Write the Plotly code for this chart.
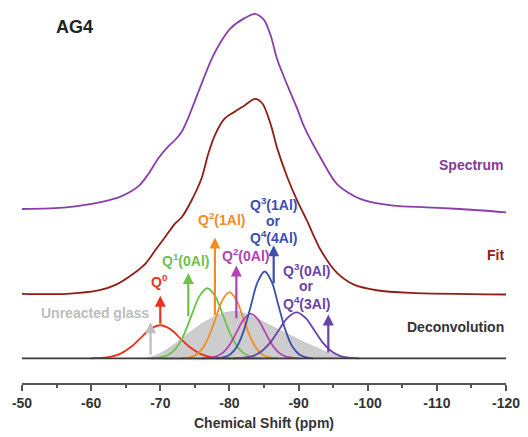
import plotly.graph_objects as go

# ---------------- data ----------------
tick_vals = [-50, -60, -70, -80, -90, -100, -110, -120]
tick_text = ["-50", "-60", "-70", "-80", "-90", "-100", "-110", "-120"]

spectrum_x = [-50, -56.4, -61.2, -64.5, -66.9, -68.3, -69.75, -71.2, -72.1, -73.1, -74.0, -75.5,
              -77.4, -78.8, -80.2, -82.2, -83.7, -85.0, -86.0, -86.9, -88.4, -89.8, -90.8, -93.2,
              -95.6, -99.0, -103.7, -108.5, -113.3, -120]
spectrum_y = [1.3, 3, 8, 14.7, 24.7, 37, 53, 65, 71, 79.7, 93, 119.7,
              153, 171.3, 184.7, 194.7, 199, 193, 176.3, 153, 126.3, 103, 84.7, 53,
              26.3, 11.3, 4.7, 3, 1.3, -2]

fit_x = [-50, -56.4, -61.2, -63.6, -65.9, -67.9, -69.3, -70.7, -72.1, -73.1, -74.5, -76.0,
         -76.9, -77.9, -79.3, -80.7, -82.2, -83.7, -84.8, -86.0, -86.9, -88.4, -89.8, -91.2,
         -93.2, -95.6, -98.0, -101.3, -106.1, -120]
fit_y = [0.3, 0.3, 4, 9.7, 19.7, 31.3, 44.7, 58, 71.3, 78, 94.7, 118,
         141.3, 161.3, 178, 184.7, 191.3, 198, 193, 171.3, 148, 118, 94.7, 74.7,
         44.7, 21.3, 9.7, 4, 1.3, -0.3]

glass_x = [-68, -69, -70, -71, -72, -73, -74, -75, -76, -77, -78, -79, -80, -81, -82, -83,
           -84, -85, -86, -87, -88, -89, -90, -91, -92, -93, -94, -95, -96, -97, -98]
glass_y = [0, 2, 5, 9, 14, 19, 25, 30, 35, 39, 43, 45.5, 47, 47.5, 46, 43,
           40, 36.5, 33, 29.5, 26, 22.5, 19, 15.5, 12.5, 9.5, 6.5, 4, 2, 0.8, 0]

q0_x = [-59.9, -61.3, -62.75, -64.2, -65.65, -67.1, -68.55, -70.0, -71.45, -72.9, -74.35, -75.8, -77.25, -78.7, -80.1]
q0_y = [0, 0.4, 1.5, 4.5, 10.9, 20.3, 29.6, 33.5, 29.6, 20.3, 10.9, 4.5, 1.5, 0.4, 0]

q1_x = [-68.8, -69.9, -71.05, -72.2, -73.35, -74.5, -75.65, -76.8, -77.95, -79.1, -80.25, -81.4, -82.55, -83.7, -84.8]
q1_y = [0, 0.8, 3.1, 9.6, 23.1, 43.1, 62.7, 71, 62.7, 43.1, 23.1, 9.6, 3.1, 0.8, 0]

q2a_x = [-73, -74, -75, -76, -77, -78, -79, -80, -81, -82, -83, -84, -85, -86, -87]
q2a_y = [0, 0.7, 2.9, 9.1, 21.8, 40.6, 59.1, 67, 59.1, 40.6, 21.8, 9.1, 2.9, 0.7, 0]

q2b_x = [-76.1, -77.1, -78.1, -79.1, -80.1, -81.1, -82.1, -83.1, -84.1, -85.1, -86.1, -87.1, -88.1, -89.1, -90.1]
q2b_y = [0, 0.5, 2.0, 6.1, 14.6, 27.3, 39.7, 45, 39.7, 27.3, 14.6, 6.1, 2.0, 0.5, 0]

q3a_x = [-78.1, -79.1, -80.1, -81.1, -82.1, -83.1, -84.1, -85.1, -86.1, -87.1, -88.1, -89.1, -90.1, -91.1, -92.1]
q3a_y = [0, 1.0, 3.9, 11.9, 28.6, 53.4, 77.7, 88, 77.7, 53.4, 28.6, 11.9, 3.9, 1.0, 0]

q3b_x = [-80.6, -81.9, -83.2, -84.5, -85.8, -87.1, -88.4, -89.7, -91.0, -92.3, -93.6, -94.9, -96.2, -97.5, -98.8]
q3b_y = [0, 0.5, 2.0, 6.3, 15.1, 28.2, 41.0, 46.5, 41.0, 28.2, 15.1, 6.3, 2.0, 0.5, 0]

# arrows: position (ppm), tail and head heights above the deconvolution baseline
arrow_x = [-68.6, -70.0, -74.05, -77.9, -81.0, -86.4, -94.3]
arrow_tail = [2, 33.5, 41, 42.5, 39, 74.5, 4.5]
arrow_head = [36.5, 63.5, 86.5, 122.5, 94, 114.5, 44.5]
arrow_colors = ["#bdbdbd", "#e8341c", "#6cc24a", "#f28c28", "#b043b5", "#3a4fb0", "#6a42a8"]

# peak labels: text lines, x (ppm), y (height above deconvolution baseline)
label_text = ["Unreacted glass", "Q<sup>0</sup>", "Q<sup>1</sup>(0Al)", "Q<sup>2</sup>(1Al)",
              "Q<sup>2</sup>(0Al)",
              "Q<sup>3</sup>(1Al)", "or", "Q<sup>4</sup>(4Al)",
              "Q<sup>3</sup>(0Al)", "or", "Q<sup>4</sup>(3Al)"]
label_x = [-60.5, -69.9, -73.6, -78.8, -82.3, -86.4, -86.4, -86.4, -91.1, -91.1, -91.1]
label_y = [45.8, 78.5, 99.2, 140.8, 105.2, 156.5, 139.5, 122.5, 89.5, 73.2, 56.5]
label_colors = ["#bdbdbd", "#e8341c", "#6cc24a", "#f28c28", "#b043b5",
                "#3a4fb0", "#3a4fb0", "#3a4fb0", "#6a42a8", "#6a42a8", "#6a42a8"]

# ---------------- styling / offsets ----------------
SPEC_OFF = 175
FIT_OFF = 90
DEC_OFF = 25
FONT = "Liberation Sans, Arial, sans-serif"

fig = go.Figure()

# unreacted glass (filled)
fig.add_trace(go.Scatter(
    x=glass_x + [glass_x[-1], glass_x[0]],
    y=[v + DEC_OFF for v in glass_y] + [DEC_OFF, DEC_OFF],
    mode="lines", fill="toself", fillcolor="rgba(200,200,200,0.9)",
    line=dict(color="rgba(190,190,190,1)", width=0.8, shape="spline"),
    hoverinfo="skip", showlegend=False))

components = [
    (q0_x, q0_y, "#e8341c"),
    (q1_x, q1_y, "#6cc24a"),
    (q2a_x, q2a_y, "#f28c28"),
    (q2b_x, q2b_y, "#b043b5"),
    (q3a_x, q3a_y, "#3a4fb0"),
    (q3b_x, q3b_y, "#6a42a8"),
]
for cx, cy, col in components:
    fig.add_trace(go.Scatter(
        x=cx, y=[v + DEC_OFF for v in cy], mode="lines",
        line=dict(color=col, width=1.8, shape="spline", smoothing=1.0),
        showlegend=False, hoverinfo="skip"))

# baseline of deconvolution
fig.add_trace(go.Scatter(
    x=[-50, -120], y=[DEC_OFF, DEC_OFF], mode="lines",
    line=dict(color="#3c3c3c", width=1.8), showlegend=False, hoverinfo="skip"))

# fit & spectrum
fig.add_trace(go.Scatter(
    x=fit_x, y=[v + FIT_OFF for v in fit_y], mode="lines",
    line=dict(color="#8e1f16", width=1.8, shape="spline", smoothing=0.8),
    showlegend=False, hoverinfo="skip"))
fig.add_trace(go.Scatter(
    x=spectrum_x, y=[v + SPEC_OFF for v in spectrum_y], mode="lines",
    line=dict(color="#8a3fa8", width=1.8, shape="spline", smoothing=0.8),
    showlegend=False, hoverinfo="skip"))

annotations = []
for ax_, t, h, c in zip(arrow_x, arrow_tail, arrow_head, arrow_colors):
    annotations.append(dict(
        x=ax_, y=h + DEC_OFF, ax=ax_, ay=t + DEC_OFF, xref="x", yref="y",
        axref="x", ayref="y", showarrow=True, arrowhead=2, arrowsize=1.0,
        arrowwidth=2.2, arrowcolor=c, text=""))

for txt, lx, ly, c in zip(label_text, label_x, label_y, label_colors):
    annotations.append(dict(
        x=lx, y=ly + DEC_OFF, xref="x", yref="y", text=txt, showarrow=False,
        borderpad=0,
        font=dict(family=FONT, size=14, color=c, weight="bold")))

annotations += [
    dict(x=-120.0, y=SPEC_OFF + 46, xref="x", yref="y", text="Spectrum", showarrow=False,
         xanchor="right", font=dict(family=FONT, size=14, color="#82399a", weight="bold")),
    dict(x=-120.0, y=FIT_OFF + 40, xref="x", yref="y", text="Fit", showarrow=False,
         xanchor="right", font=dict(family=FONT, size=14, color="#961e14", weight="bold")),
    dict(x=-120.0, y=DEC_OFF + 32, xref="x", yref="y", text="Deconvolution", showarrow=False,
         xanchor="right", font=dict(family=FONT, size=14, color="#333333", weight="bold")),
    dict(x=-57.6, y=361, xref="x", yref="y", text="AG4", showarrow=False,
         font=dict(family=FONT, size=18, color="#222222", weight="bold")),
]

fig.update_layout(
    width=528, height=437,
    margin=dict(l=22, r=17, t=8, b=49),
    paper_bgcolor="white", plot_bgcolor="white",
    annotations=annotations,
    xaxis=dict(
        range=[-50, -120], tickvals=tick_vals, ticktext=tick_text,
        showgrid=False, zeroline=False, showline=True, linecolor="#555555", linewidth=1.5,
        ticks="outside", ticklen=6, tickwidth=1.5, tickcolor="#555555",
        minor=dict(dtick=5, tick0=-50, ticks="outside", ticklen=3, tickwidth=1.5,
                   tickcolor="#555555", showgrid=False),
        tickfont=dict(family=FONT, size=14, color="#333333", weight="bold"),
        title=dict(text="Chemical Shift (ppm)", standoff=9,
                   font=dict(family=FONT, size=14, color="#333333", weight="bold")),
    ),
    yaxis=dict(range=[0, 380], visible=False, showgrid=False, zeroline=False),
)

fig.write_html("out.html")
